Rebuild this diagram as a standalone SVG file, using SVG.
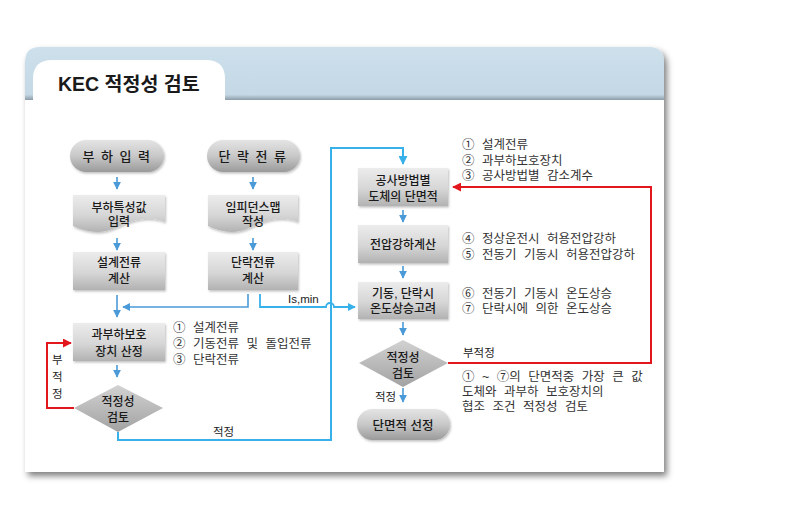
<svg xmlns="http://www.w3.org/2000/svg" width="792" height="529" viewBox="0 0 792 529">
<defs>
  <linearGradient id="hdr" x1="0" y1="0" x2="0" y2="1">
    <stop offset="0" stop-color="#cde0ec"/>
    <stop offset="0.9" stop-color="#c4d8e5"/>
    <stop offset="1" stop-color="#8c9ca8"/>
  </linearGradient>
  <linearGradient id="box" x1="0" y1="0" x2="0" y2="1">
    <stop offset="0" stop-color="#ececec"/>
    <stop offset="0.55" stop-color="#d6d6d6"/>
    <stop offset="1" stop-color="#b2b2b2"/>
  </linearGradient>
  <linearGradient id="pill" x1="0" y1="0" x2="0" y2="1">
    <stop offset="0" stop-color="#e4e4e4"/>
    <stop offset="0.5" stop-color="#c8c8c8"/>
    <stop offset="1" stop-color="#9a9a9a"/>
  </linearGradient>
  <linearGradient id="dia" x1="0" y1="0" x2="0" y2="1">
    <stop offset="0" stop-color="#d2d2d2"/>
    <stop offset="1" stop-color="#a2a2a2"/>
  </linearGradient>
  <filter id="psh" x="-5%" y="-5%" width="112%" height="115%">
    <feDropShadow dx="3" dy="4" stdDeviation="3" flood-color="#000" flood-opacity="0.5"/>
  </filter>
  <filter id="bsh" x="-10%" y="-10%" width="125%" height="130%">
    <feDropShadow dx="1" dy="1.5" stdDeviation="1" flood-color="#000" flood-opacity="0.25"/>
  </filter>
  <marker id="ab" viewBox="0 0 10 10" refX="9" refY="5" markerWidth="5" markerHeight="5" orient="auto" markerUnits="strokeWidth">
    <path d="M0,0 L10,5 L0,10 Z" fill="#4a9ad8"/>
  </marker>
  <marker id="ac" viewBox="0 0 10 10" refX="9" refY="5" markerWidth="4.5" markerHeight="4.5" orient="auto" markerUnits="strokeWidth">
    <path d="M0,0 L10,5 L0,10 Z" fill="#38b0ea"/>
  </marker>
  <marker id="ar" viewBox="0 0 10 10" refX="9" refY="5" markerWidth="4.5" markerHeight="4.5" orient="auto" markerUnits="strokeWidth">
    <path d="M0,0 L10,5 L0,10 Z" fill="#e3161e"/>
  </marker>
</defs>
<style>
  text { font-family: "Liberation Sans", "Noto Sans CJK KR", sans-serif; }
  .t { font-size: 12px; fill: #1a1a1a; text-anchor: middle; font-weight: 500; }
  .a { font-size: 12.5px; fill: #333; word-spacing: 4px; }
  .l { font-size: 11.5px; fill: #222; }
  .sa { fill: none; stroke: #4a9ad8; stroke-width: 1.6; marker-end: url(#ab); }
  .cy { fill: none; stroke: #38b0ea; stroke-width: 2; }
  .rd { fill: none; stroke: #e3161e; stroke-width: 2; }
</style>

<g id="panel">
  <g filter="url(#psh)">
    <path d="M25,100 V62 Q25,47 40,47 H649 Q664,47 664,62 V100 Z" fill="url(#hdr)"/>
    <rect x="25" y="100" width="639" height="372" fill="#ffffff"/>
  </g>
  <path d="M33,100 V79 Q33,60 52,60 H206 Q225,60 225,79 V100 Z" fill="#ffffff"/>
  <text x="58" y="91" style="font-size:19.5px;font-weight:bold;fill:#1a1a1a">KEC 적정성 검토</text>
</g>

<g id="connectors">
  <path class="sa" d="M117,177 V189"/>
  <path class="sa" d="M253,177 V189"/>
  <path class="sa" d="M117,238 V250"/>
  <path class="sa" d="M253,238 V250"/>
  <path class="sa" d="M117,295 V317"/>
  <path class="sa" d="M248,294 V307 H123"/>
  <path d="M260,294 V307 H326 A4,4 0 0 1 334,307 H355" fill="none" stroke="#38b0ea" stroke-width="1.8" marker-end="url(#ac)"/>
  <path class="sa" d="M117,365 V377"/>
  <path class="rd" d="M74,408 H47 V343 H71" marker-end="url(#ar)"/>
  <path class="cy" d="M118,432 V440 H331 V148 H403 V164" marker-end="url(#ac)"/>
  <path class="sa" d="M403,210 V222"/>
  <path class="sa" d="M403,266 V278"/>
  <path class="sa" d="M403,322 V335"/>
  <path class="sa" d="M403,388 V402"/>
  <path class="rd" d="M448,363 H651 V187 H453" marker-end="url(#ar)"/>
  <text class="l" x="288" y="303">Is,min</text>
  <text class="l" x="213" y="436">적정</text>
  <text class="l" x="463" y="357">부적정</text>
  <text class="l" x="375" y="401">적정</text>
  <text class="l" x="52" y="364">부</text>
  <text class="l" x="52" y="381">적</text>
  <text class="l" x="52" y="398">정</text>
</g>

<g id="n-load">
  <rect x="70" y="140" width="94" height="32" rx="16" fill="url(#pill)" filter="url(#bsh)"/>
  <text class="t" x="117" y="161" style="font-size:13px;letter-spacing:1.5px">부 하 입 력</text>
</g>
<g id="n-short">
  <rect x="207" y="140" width="93" height="32" rx="16" fill="url(#pill)" filter="url(#bsh)"/>
  <text class="t" x="253" y="161" style="font-size:13px;letter-spacing:1.5px">단 락 전 류</text>
</g>
<g id="n-loadchar">
  <path d="M73,195 H165 V222 C148,215 132,220 115,228 C100,235 86,232 73,226 Z" fill="url(#box)" filter="url(#bsh)"/>
  <text class="t" x="119" y="212">부하특성값</text>
  <text class="t" x="119" y="226">입력</text>
</g>
<g id="n-imp">
  <path d="M208,195 H298 V222 C281,215 265,220 249,228 C234,235 221,232 208,226 Z" fill="url(#box)" filter="url(#bsh)"/>
  <text class="t" x="253" y="212">임피던스맵</text>
  <text class="t" x="253" y="226">작성</text>
</g>
<g id="n-design">
  <rect x="73" y="252" width="92" height="38" fill="url(#box)" filter="url(#bsh)"/>
  <text class="t" x="119" y="267">설계전류</text>
  <text class="t" x="119" y="283">계산</text>
</g>
<g id="n-shortcalc">
  <rect x="208" y="252" width="90" height="38" fill="url(#box)" filter="url(#bsh)"/>
  <text class="t" x="253" y="267">단락전류</text>
  <text class="t" x="253" y="283">계산</text>
</g>
<g id="n-ocp">
  <rect x="73" y="323" width="92" height="38" fill="url(#box)" filter="url(#bsh)"/>
  <text class="t" x="119" y="339">과부하보호</text>
  <text class="t" x="119" y="356">장치 산정</text>
</g>
<g id="n-check1">
  <path d="M118,385 L163,408 L118,432 L74,408 Z" fill="url(#dia)"/>
  <text class="t" x="118" y="406">적정성</text>
  <text class="t" x="118" y="422">검토</text>
</g>
<g id="n-section">
  <rect x="358" y="168" width="90" height="38" fill="url(#box)" filter="url(#bsh)"/>
  <text class="t" x="403" y="185">공사방법별</text>
  <text class="t" x="403" y="201">도체의 단면적</text>
</g>
<g id="n-vdrop">
  <rect x="358" y="225" width="90" height="38" fill="url(#box)" filter="url(#bsh)"/>
  <text class="t" x="403" y="249">전압강하계산</text>
</g>
<g id="n-temp">
  <rect x="358" y="282" width="90" height="37" fill="url(#box)" filter="url(#bsh)"/>
  <text class="t" x="403" y="298">기동, 단락시</text>
  <text class="t" x="403" y="313">온도상승고려</text>
</g>
<g id="n-check2">
  <path d="M403,340 L448,363 L403,387 L359,363 Z" fill="url(#dia)"/>
  <text class="t" x="403" y="362">적정성</text>
  <text class="t" x="403" y="378">검토</text>
</g>
<g id="n-select">
  <rect x="357" y="409" width="93" height="31" rx="15.5" fill="url(#pill)" filter="url(#bsh)"/>
  <text class="t" x="403" y="430" style="font-size:12.5px">단면적 선정</text>
</g>

<g id="notes">
  <text class="a" x="173" y="332">① 설계전류</text>
  <text class="a" x="173" y="348">② 기동전류 및 돌입전류</text>
  <text class="a" x="173" y="364">③ 단락전류</text>
  <text class="a" x="462" y="149">① 설계전류</text>
  <text class="a" x="462" y="165">② 과부하보호장치</text>
  <text class="a" x="462" y="180">③ 공사방법별 감소계수</text>
  <text class="a" x="462" y="243">④ 정상운전시 허용전압강하</text>
  <text class="a" x="462" y="259">⑤ 전동기 기동시 허용전압강하</text>
  <text class="a" x="462" y="298">⑥ 전동기 기동시 온도상승</text>
  <text class="a" x="462" y="313">⑦ 단락시에 의한 온도상승</text>
  <text class="a" x="462" y="381">① ~ ⑦의 단면적중 가장 큰 값</text>
  <text class="a" x="462" y="396">도체와 과부하 보호장치의</text>
  <text class="a" x="462" y="411">협조 조건 적정성 검토</text>
</g>
</svg>
